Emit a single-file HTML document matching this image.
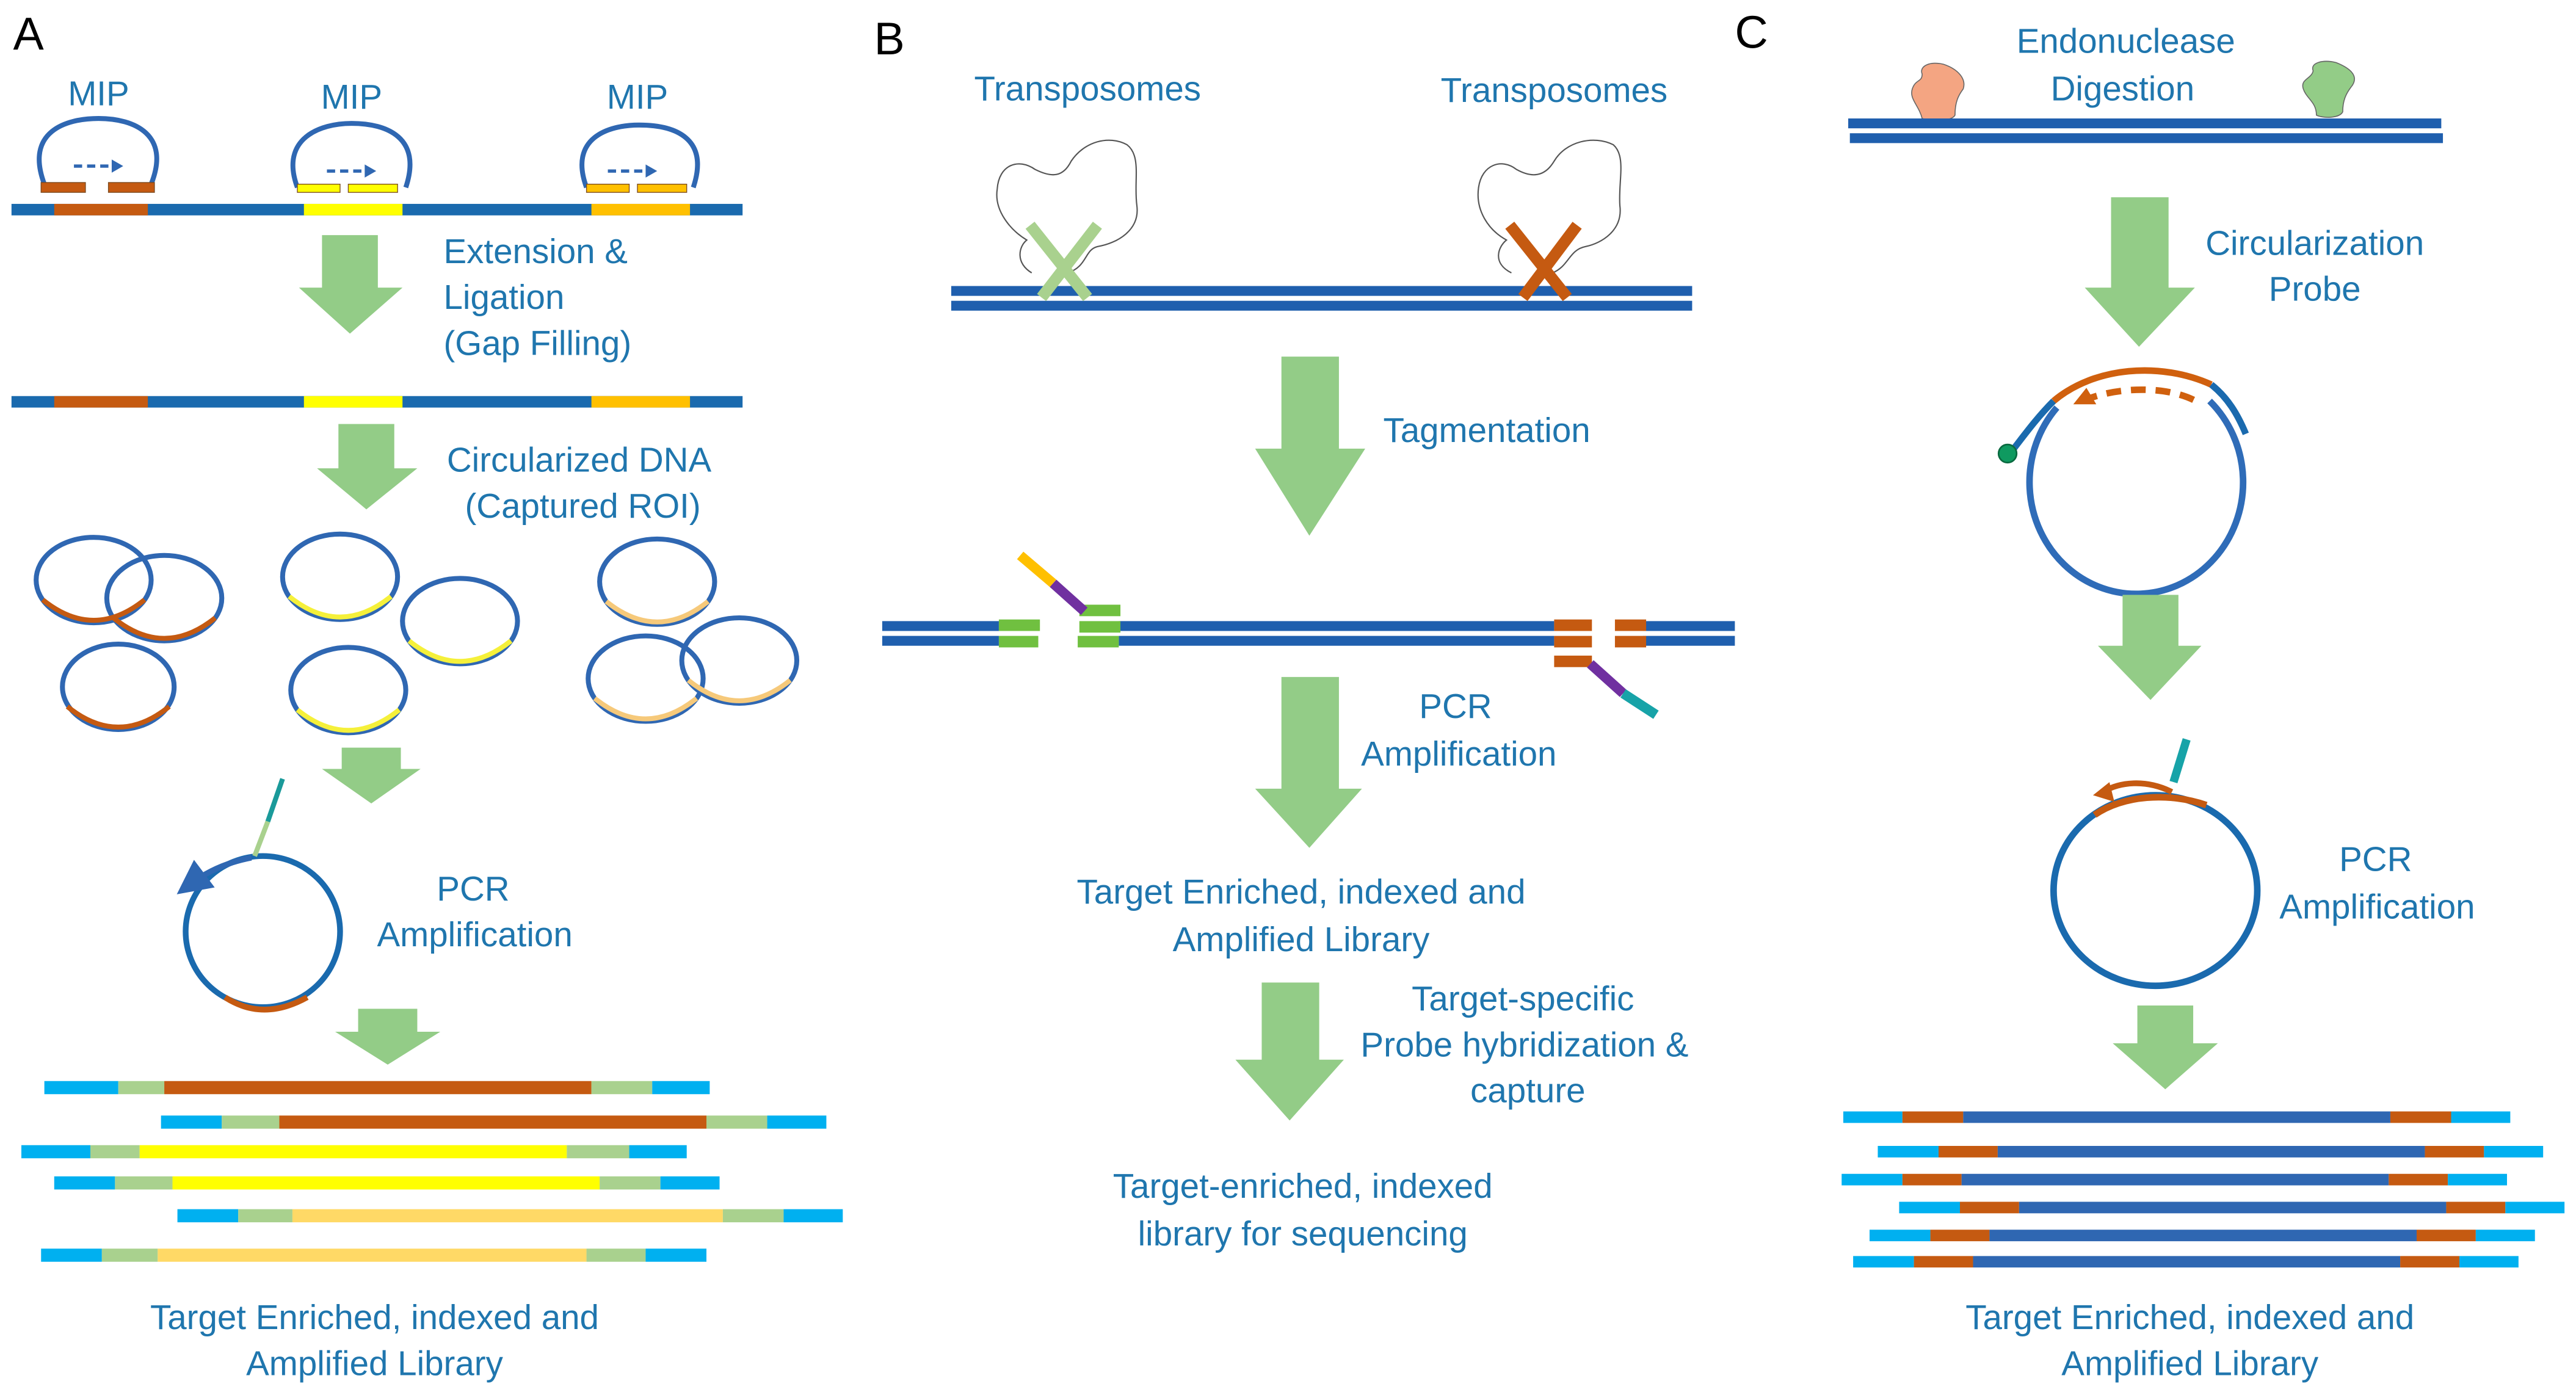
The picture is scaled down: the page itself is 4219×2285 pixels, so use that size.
<!DOCTYPE html>
<html><head><meta charset="utf-8"><style>
html,body{margin:0;padding:0;background:#fff;}
svg{display:block;}
text{font-family:"Liberation Sans",sans-serif;fill:#1f76ae;font-size:21px;}
</style></head><body>
<svg width="4219" height="2285" viewBox="0 0 1568 849" xmlns="http://www.w3.org/2000/svg">
<defs>
<marker id="ab" markerWidth="6" markerHeight="6" refX="3" refY="3" orient="auto"><path d="M0,0 L6,3 L0,6 z" fill="#2f67b2"/></marker>
</defs>
<rect width="1568" height="849" fill="#fff"/>
<!-- ================= PANEL A ================= -->
<text x="8" y="30" style="fill:#000;font-size:28px">A</text>
<text x="60" y="64" text-anchor="middle" style="font-size:21px">MIP</text>
<text x="214" y="66" text-anchor="middle" style="font-size:21px">MIP</text>
<text x="388" y="66" text-anchor="middle" style="font-size:21px">MIP</text>
<g fill="none" stroke="#2f67b2" stroke-width="3">
<path d="M27,112 C15,80 40,72 60,72 C82,72 104,82 92,112"/>
<path d="M181,114 C170,84 195,75 214,75 C236,75 257,84 247,114"/>
<path d="M357,114 C346,84 370,76 389,76 C411,76 432,84 422,114"/>
</g>
<g stroke="#2f67b2" stroke-width="2" stroke-dasharray="5,3"><line x1="45" y1="101" x2="68" y2="101"/><line x1="199" y1="104" x2="222" y2="104"/><line x1="370" y1="104" x2="393" y2="104"/></g>
<g fill="#2f67b2"><path d="M68,97 L75,101 L68,105z"/><path d="M222,100 L229,104 L222,108z"/><path d="M393,100 L400,104 L393,108z"/></g>
<g stroke="#7a4a20" stroke-width="0.5">
<rect x="25" y="111" width="27" height="6" fill="#c55a11"/><rect x="66" y="111" width="28" height="6" fill="#c55a11"/>
<rect x="181" y="112" width="26" height="5" fill="#ffff00"/><rect x="212" y="112" width="30" height="5" fill="#ffff00"/>
<rect x="357" y="112" width="26" height="5" fill="#ffc000"/><rect x="388" y="112" width="30" height="5" fill="#ffc000"/>
</g>
<rect x="7" y="124" width="445" height="7" fill="#1a6aae"/>
<rect x="33" y="124" width="57" height="7" fill="#c55a11"/>
<rect x="185" y="124" width="60" height="7" fill="#ffff00"/>
<rect x="360" y="124" width="60" height="7" fill="#ffc000"/>
<path d="M196,143 H230 V175 H245 L213,203 L182,175 H196 Z" fill="#93cc87"/>
<text x="270" y="160">Extension &amp;</text>
<text x="270" y="188">Ligation</text>
<text x="270" y="216">(Gap Filling)</text>
<rect x="7" y="241" width="445" height="7" fill="#1a6aae"/>
<rect x="33" y="241" width="57" height="7" fill="#c55a11"/>
<rect x="185" y="241" width="60" height="7" fill="#ffff00"/>
<rect x="360" y="241" width="60" height="7" fill="#ffc000"/>
<path d="M206,258 H240 V285 H254 L223,310 L193,285 H206 Z" fill="#93cc87"/>
<text x="272" y="287">Circularized DNA</text>
<text x="283" y="315">(Captured ROI)</text>
<g fill="none" stroke-width="3">
<g stroke="#2f67b2"><ellipse cx="57" cy="353" rx="35" ry="26"/><ellipse cx="100" cy="364" rx="35" ry="26"/><ellipse cx="72" cy="418" rx="34" ry="26"/>
<ellipse cx="207" cy="351" rx="35" ry="26"/><ellipse cx="280" cy="378" rx="35" ry="26"/><ellipse cx="212" cy="420" rx="35" ry="26"/>
<ellipse cx="400" cy="354" rx="35" ry="26"/><ellipse cx="393" cy="413" rx="35" ry="26"/><ellipse cx="450" cy="402" rx="35" ry="26"/></g>
<g stroke="#c55a11"><path d="M26,365 Q57,390 88,365"/><path d="M69,376 Q100,401 131,376"/><path d="M41,430 Q72,455 103,430"/></g>
<g stroke="#f5f03a"><path d="M176,363 Q207,388 238,363"/><path d="M249,390 Q280,415 311,390"/><path d="M181,432 Q212,457 243,432"/></g>
<g stroke="#f6c97a"><path d="M369,366 Q400,391 431,366"/><path d="M362,425 Q393,450 424,425"/><path d="M419,414 Q450,439 481,414"/></g>
</g>
<path d="M208,455 H244 V468 H256 L226,489 L196,468 H208 Z" fill="#93cc87"/>
<ellipse cx="160" cy="567" rx="47" ry="46" fill="none" stroke="#1a6aae" stroke-width="3.5"/>
<path d="M137,607 Q160,622 187,607" fill="none" stroke="#c55a11" stroke-width="3.5"/>
<line x1="172" y1="474" x2="163" y2="500" stroke="#1a9a9a" stroke-width="3"/>
<line x1="163" y1="500" x2="155" y2="521" stroke="#a9d18e" stroke-width="3"/>
<path d="M153,522 Q132,526 116,538" fill="none" stroke="#2f67b2" stroke-width="3.5" marker-end="url(#ab)"/>
<text x="288" y="548" text-anchor="middle">PCR</text>
<text x="289" y="576" text-anchor="middle">Amplification</text>
<path d="M218,614 H254 V628 H268 L236,648 L204,628 H218 Z" fill="#93cc87"/>
<g stroke-width="8">
<g transform="translate(0,662)"><line x1="27" x2="72" stroke="#00b0f0"/><line x1="72" x2="100" stroke="#a9d18e"/><line x1="100" x2="360" stroke="#c55a11"/><line x1="360" x2="397" stroke="#a9d18e"/><line x1="397" x2="432" stroke="#00b0f0"/></g>
<g transform="translate(0,683)"><line x1="98" x2="135" stroke="#00b0f0"/><line x1="135" x2="170" stroke="#a9d18e"/><line x1="170" x2="430" stroke="#c55a11"/><line x1="430" x2="467" stroke="#a9d18e"/><line x1="467" x2="503" stroke="#00b0f0"/></g>
<g transform="translate(0,701)"><line x1="13" x2="55" stroke="#00b0f0"/><line x1="55" x2="85" stroke="#a9d18e"/><line x1="85" x2="345" stroke="#ffff00"/><line x1="345" x2="383" stroke="#a9d18e"/><line x1="383" x2="418" stroke="#00b0f0"/></g>
<g transform="translate(0,720)"><line x1="33" x2="70" stroke="#00b0f0"/><line x1="70" x2="105" stroke="#a9d18e"/><line x1="105" x2="365" stroke="#ffff00"/><line x1="365" x2="402" stroke="#a9d18e"/><line x1="402" x2="438" stroke="#00b0f0"/></g>
<g transform="translate(0,740)"><line x1="108" x2="145" stroke="#00b0f0"/><line x1="145" x2="178" stroke="#a9d18e"/><line x1="178" x2="440" stroke="#ffd966"/><line x1="440" x2="477" stroke="#a9d18e"/><line x1="477" x2="513" stroke="#00b0f0"/></g>
<g transform="translate(0,764)"><line x1="25" x2="62" stroke="#00b0f0"/><line x1="62" x2="96" stroke="#a9d18e"/><line x1="96" x2="357" stroke="#ffd966"/><line x1="357" x2="393" stroke="#a9d18e"/><line x1="393" x2="430" stroke="#00b0f0"/></g>
</g>
<text x="228" y="809" text-anchor="middle">Target Enriched, indexed and</text>
<text x="228" y="837" text-anchor="middle">Amplified Library</text>

<!-- ================= PANEL B ================= -->
<text x="532" y="33" style="fill:#000;font-size:28px">B</text>
<text x="662" y="61" text-anchor="middle">Transposomes</text>
<text x="946" y="62" text-anchor="middle">Transposomes</text>
<g fill="none" stroke="#555" stroke-width="0.8">
<path d="M628,166 C618,160 620,150 625,146 C615,140 605,128 607,115 C608,100 620,96 630,103 C640,108 647,108 652,98 C660,86 675,82 686,88 C695,95 690,110 692,125 C694,140 680,148 668,150 C660,152 662,162 650,166"/>
<path d="M920,166 C908,160 912,150 917,146 C906,140 898,128 900,114 C902,100 914,96 923,103 C932,108 940,108 946,98 C953,86 970,82 982,88 C990,95 985,110 986,125 C988,140 975,148 965,150 C955,152 955,162 945,166"/>
</g>
<rect x="579" y="174" width="451" height="6" fill="#1f5fae"/>
<rect x="579" y="183" width="451" height="6" fill="#1f5fae"/>
<g stroke="#a9d18e" stroke-width="7"><line x1="627" y1="137" x2="662" y2="181"/><line x1="668" y1="137" x2="634" y2="181"/></g>
<g stroke="#c55a11" stroke-width="7"><line x1="919" y1="137" x2="954" y2="181"/><line x1="960" y1="137" x2="927" y2="181"/></g>
<path d="M780,217 H815 V273 H831 L797,326 L764,273 H780 Z" fill="#93cc87"/>
<text x="905" y="269" text-anchor="middle">Tagmentation</text>
<rect x="537" y="378" width="71" height="6" fill="#1f5fae"/><rect x="537" y="387" width="71" height="6" fill="#1f5fae"/>
<rect x="681" y="378" width="265" height="6" fill="#1f5fae"/><rect x="681" y="387" width="265" height="6" fill="#1f5fae"/>
<rect x="1000" y="378" width="56" height="6" fill="#1f5fae"/><rect x="1000" y="387" width="56" height="6" fill="#1f5fae"/>
<g fill="#70c040"><rect x="608" y="377" width="25" height="7"/><rect x="608" y="387" width="24" height="7"/><rect x="657" y="368" width="25" height="7"/><rect x="657" y="378" width="25" height="7"/><rect x="656" y="387" width="25" height="7"/></g>
<g fill="#c55a11"><rect x="946" y="377" width="23" height="7"/><rect x="946" y="387" width="23" height="7"/><rect x="983" y="377" width="19" height="7"/><rect x="983" y="387" width="19" height="7"/><rect x="946" y="399" width="23" height="7"/></g>
<line x1="621" y1="338" x2="641" y2="355" stroke="#ffc000" stroke-width="6"/>
<line x1="641" y1="355" x2="660" y2="372" stroke="#7030a0" stroke-width="6"/>
<line x1="968" y1="404" x2="988" y2="422" stroke="#7030a0" stroke-width="6"/>
<line x1="988" y1="422" x2="1008" y2="435" stroke="#17a3a8" stroke-width="6"/>
<path d="M780,412 H815 V480 H829 L797,516 L764,480 H780 Z" fill="#93cc87"/>
<text x="886" y="437" text-anchor="middle">PCR</text>
<text x="888" y="466" text-anchor="middle">Amplification</text>
<text x="792" y="550" text-anchor="middle">Target Enriched, indexed and</text>
<text x="792" y="579" text-anchor="middle">Amplified Library</text>
<path d="M768,598 H803 V645 H818 L785,682 L752,645 H768 Z" fill="#93cc87"/>
<text x="927" y="615" text-anchor="middle">Target-specific</text>
<text x="928" y="643" text-anchor="middle">Probe hybridization &amp;</text>
<text x="930" y="671" text-anchor="middle">capture</text>
<text x="793" y="729" text-anchor="middle">Target-enriched, indexed</text>
<text x="793" y="758" text-anchor="middle">library for sequencing</text>

<!-- ================= PANEL C ================= -->
<text x="1056" y="29" style="fill:#000;font-size:28px">C</text>
<text x="1294" y="32" text-anchor="middle">Endonuclease</text>
<text x="1292" y="61" text-anchor="middle">Digestion</text>
<path d="M1170,72 C1168,64 1162,60 1164,54 C1166,48 1170,50 1170,45 C1168,40 1175,37 1183,39 C1192,42 1197,48 1195,54 C1192,58 1190,62 1190,70 C1188,74 1175,74 1170,72Z" fill="#f4a582" stroke="#666" stroke-width="0.6"/>
<path d="M1410,70 C1410,62 1404,60 1402,54 C1400,48 1407,48 1408,43 C1406,38 1414,36 1422,38 C1432,42 1436,47 1431,53 C1428,57 1426,61 1426,68 C1424,72 1414,72 1410,70Z" fill="#93cc87" stroke="#666" stroke-width="0.6"/>
<rect x="1125" y="72" width="361" height="6" fill="#1f5fae"/>
<rect x="1126" y="81" width="361" height="6" fill="#1f5fae"/>
<path d="M1285,120 H1320 V175 H1336 L1302,211 L1269,175 H1285 Z" fill="#93cc87"/>
<text x="1409" y="155" text-anchor="middle">Circularization</text>
<text x="1409" y="183" text-anchor="middle">Probe</text>
<path d="M1252,248 A65,68 0 1 0 1345,244" fill="none" stroke="#2f6cb8" stroke-width="4"/>
<path d="M1250,244 C1275,223 1315,220 1346,234" fill="none" stroke="#d0600e" stroke-width="4"/>
<path d="M1268,244 C1285,236 1320,233 1340,246" fill="none" stroke="#d0600e" stroke-width="4" stroke-dasharray="9,6"/>
<path d="M1270,236 L1262,246 L1276,246 Z" fill="#d0600e"/>
<path d="M1250,244 C1240,254 1232,265 1225,274" fill="none" stroke="#1a6aae" stroke-width="4"/>
<path d="M1346,234 C1356,242 1362,252 1367,264" fill="none" stroke="#1a6aae" stroke-width="4"/>
<circle cx="1222" cy="276" r="5.5" fill="#0f9a60" stroke="#0a6a40" stroke-width="1"/>
<path d="M1292,362 H1326 V393 H1340 L1309,426 L1277,393 H1292 Z" fill="#93cc87"/>
<ellipse cx="1312" cy="542" rx="62" ry="58" fill="none" stroke="#1a6aae" stroke-width="4"/>
<path d="M1275,496 C1292,484 1320,482 1343,490" fill="none" stroke="#c55a11" stroke-width="4"/>
<path d="M1322,482 C1306,474 1290,476 1280,482" fill="none" stroke="#c55a11" stroke-width="3.5"/>
<path d="M1284,476 L1274,484 L1287,488 Z" fill="#c55a11"/>
<line x1="1331" y1="450" x2="1323" y2="476" stroke="#17a3a8" stroke-width="5"/>
<text x="1446" y="530" text-anchor="middle">PCR</text>
<text x="1447" y="559" text-anchor="middle">Amplification</text>
<path d="M1301,612 H1335 V635 H1350 L1318,663 L1286,635 H1301 Z" fill="#93cc87"/>
<g stroke-width="7">
<g transform="translate(0,680)"><line x1="1122" x2="1158" stroke="#00b0f0"/><line x1="1158" x2="1195" stroke="#c55a11"/><line x1="1195" x2="1455" stroke="#2f67b2"/><line x1="1455" x2="1492" stroke="#c55a11"/><line x1="1492" x2="1528" stroke="#00b0f0"/></g>
<g transform="translate(0,701)"><line x1="1143" x2="1180" stroke="#00b0f0"/><line x1="1180" x2="1216" stroke="#c55a11"/><line x1="1216" x2="1476" stroke="#2f67b2"/><line x1="1476" x2="1512" stroke="#c55a11"/><line x1="1512" x2="1548" stroke="#00b0f0"/></g>
<g transform="translate(0,718)"><line x1="1121" x2="1158" stroke="#00b0f0"/><line x1="1158" x2="1194" stroke="#c55a11"/><line x1="1194" x2="1454" stroke="#2f67b2"/><line x1="1454" x2="1490" stroke="#c55a11"/><line x1="1490" x2="1526" stroke="#00b0f0"/></g>
<g transform="translate(0,735)"><line x1="1156" x2="1193" stroke="#00b0f0"/><line x1="1193" x2="1229" stroke="#c55a11"/><line x1="1229" x2="1489" stroke="#2f67b2"/><line x1="1489" x2="1525" stroke="#c55a11"/><line x1="1525" x2="1561" stroke="#00b0f0"/></g>
<g transform="translate(0,752)"><line x1="1138" x2="1175" stroke="#00b0f0"/><line x1="1175" x2="1211" stroke="#c55a11"/><line x1="1211" x2="1471" stroke="#2f67b2"/><line x1="1471" x2="1507" stroke="#c55a11"/><line x1="1507" x2="1543" stroke="#00b0f0"/></g>
<g transform="translate(0,768)"><line x1="1128" x2="1165" stroke="#00b0f0"/><line x1="1165" x2="1201" stroke="#c55a11"/><line x1="1201" x2="1461" stroke="#2f67b2"/><line x1="1461" x2="1497" stroke="#c55a11"/><line x1="1497" x2="1533" stroke="#00b0f0"/></g>
</g>
<text x="1333" y="809" text-anchor="middle">Target Enriched, indexed and</text>
<text x="1333" y="837" text-anchor="middle">Amplified Library</text>
</svg>
</body></html>
